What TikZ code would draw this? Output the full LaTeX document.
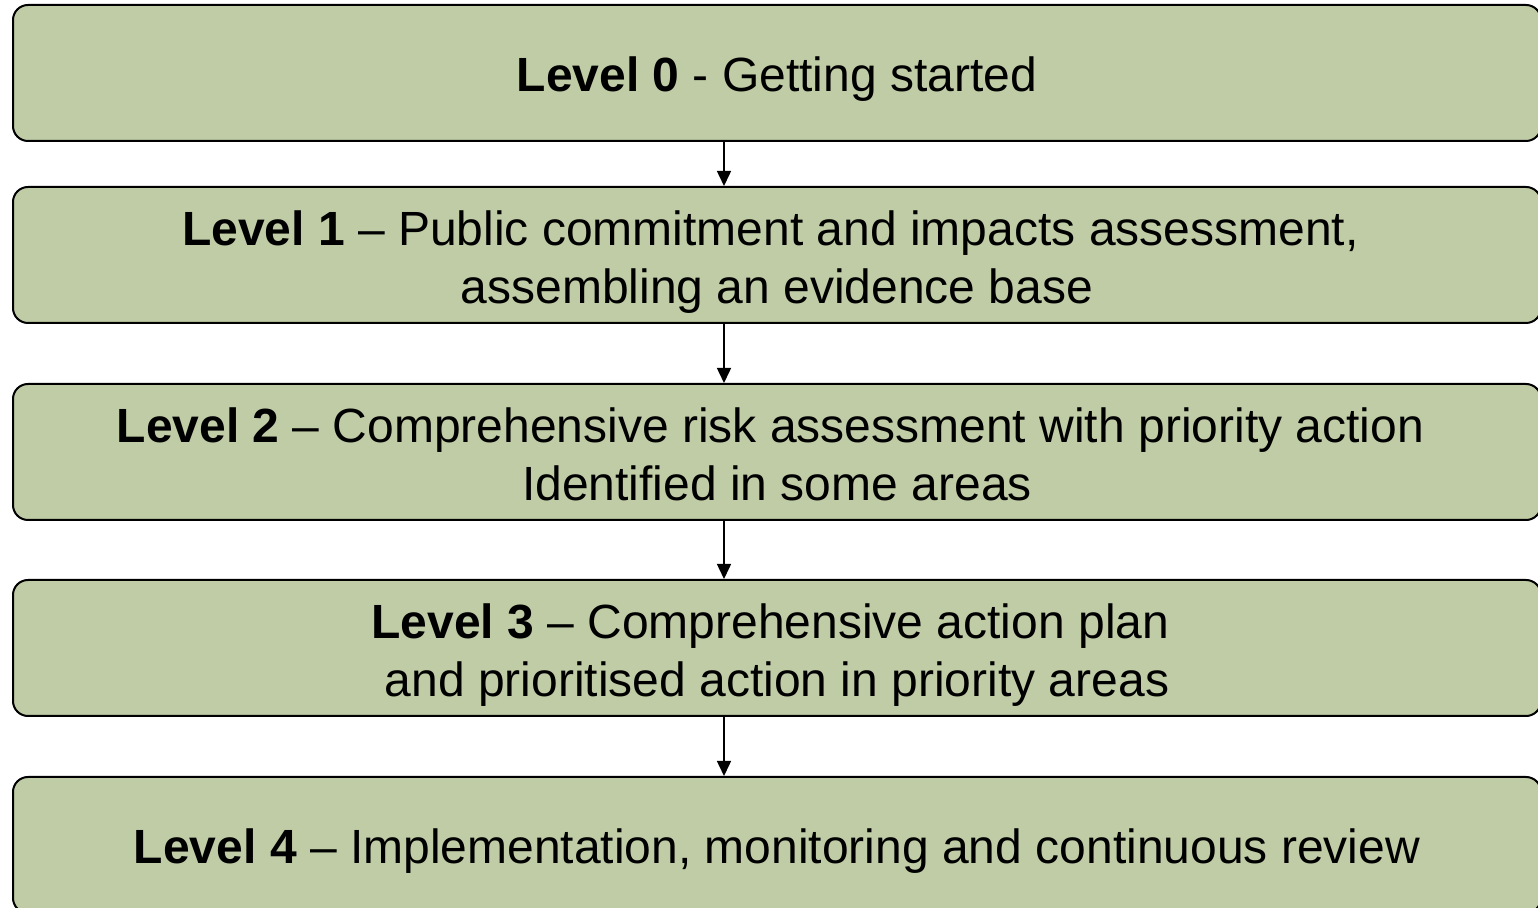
\documentclass[tikz,border=0pt]{standalone}
\usepackage{fontspec}
\setmainfont{Liberation Sans}
\usepackage{tikz}
\usepackage{xcolor}
\usetikzlibrary{arrows.meta}
\definecolor{boxgreen}{RGB}{192,204,166}
\tikzset{
    levelbox/.style={draw=black, line width=1pt, fill=boxgreen,
        rounded corners=7.5pt, minimum width=764pt, minimum height=68pt,
        inner sep=0pt},
    leveltext/.style={yshift=-3.3pt, inner sep=0pt, align=center,
        font=\fontsize{24pt}{29pt}\selectfont,
        execute at begin node=\strut, execute at end node=\strut},
    twolines/.style={yshift=-2pt},
    levelarrow/.style={->, line width=0.75pt}
}

\begin{document}
\begin{tikzpicture}[x=0.5pt, y=-0.5pt, >={Triangle[width=7pt,length=7.5pt]}]
    \useasboundingbox (0,0) rectangle (1538,908);

    % Level boxes
    \node[levelbox] (l0) at (777,73) {};
    \node[levelbox] (l1) at (777,255) {};
    \node[levelbox] (l2) at (777,452) {};
    \node[levelbox] (l3) at (777,648) {};
    \node[levelbox] (l4) at (777,845) {};

    % Texts
    \node[leveltext] (t0) at (l0.center) {\textbf{Level 0} - Getting started};
    \node[leveltext, twolines] (t1) at (l1.center) {\textbf{Level 1} -- Public commitment and impacts assessment,\hphantom{\ }\\assembling an evidence base};
    \node[leveltext, twolines] (t2) at (l2.center) {\textbf{Level 2} -- Comprehensive risk assessment with priority action\hphantom{\ }\\Identified in some areas};
    \node[leveltext, twolines] (t3) at (l3.center) {\textbf{Level 3} -- Comprehensive action plan\hphantom{\ }\\and prioritised action in priority areas};
    \node[leveltext] (t4) at (l4.center) {\textbf{Level 4} -- Implementation, monitoring and continuous review};

    % Arrows between levels
    \coordinate (ax) at (724,0);
    \foreach \a/\b in {l0/l1, l1/l2, l2/l3, l3/l4}
        \draw[levelarrow] (\a.south -| ax) -- (\b.north -| ax);
\end{tikzpicture}
\end{document}
